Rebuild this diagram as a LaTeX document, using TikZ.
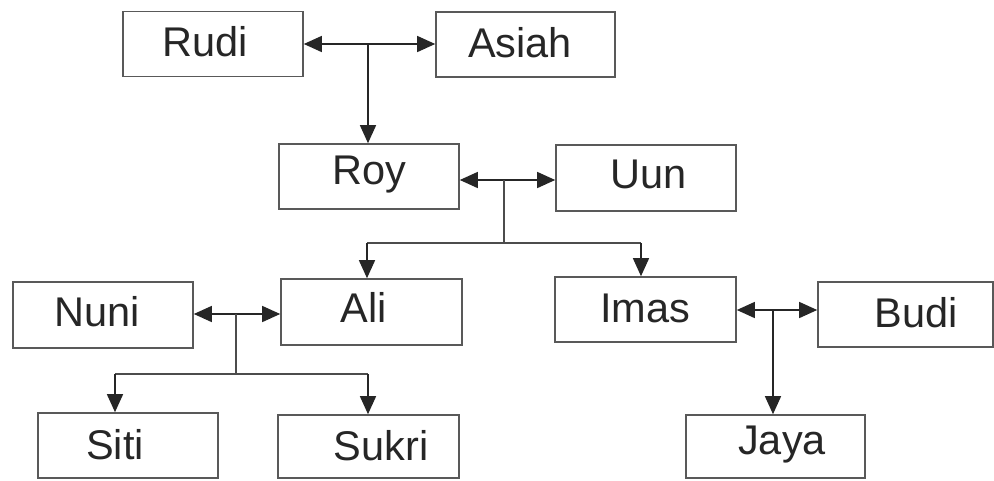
\documentclass[tikz,border=0pt]{standalone}
\usepackage{fontspec}
\setmainfont{Liberation Sans}
\usetikzlibrary{arrows.meta}
\begin{document}
\begin{tikzpicture}[x=1pt,y=-1pt,
  person/.style={draw=black!65, line width=1.6pt, fill=white, inner sep=0pt,
    minimum width=180pt, minimum height=65pt},
  nm/.style={font=\fontsize{41.5}{46}\selectfont, text=black!85, inner sep=0pt},
  link/.style={draw=black!70, line width=1.4pt},
  tip/.style={-{Triangle[length=18pt,width=16pt]}, black!85},
  both/.style={{Triangle[length=18pt,width=16pt]}-{Triangle[length=18pt,width=16pt]}, black!85}
]
\useasboundingbox (0,0) rectangle (994,480);

% people
\node[person] (rudi)  at (213,44)  {}; \node[nm] (trudi)  at (205,42)  {Rudi};
\node[person, minimum width=179pt] (asiah) at (525.5,44.5) {}; \node[nm] (tasiah) at (520,43) {Asiah};
\node[person] (roy)   at (369,176.5) {}; \node[nm] (troy)   at (369,175) {Roy};
\node[person, minimum height=66pt] (uun)   at (646,178) {}; \node[nm] (tuun)   at (649,174) {Uun};
\node[person, minimum height=66pt] (nuni)  at (103,315) {}; \node[nm] (tnuni)  at (97,312)  {Nuni};
\node[person, minimum height=66pt, minimum width=181pt] (ali) at (371.5,312) {}; \node[nm] (tali) at (364,307) {Ali};
\node[person, minimum width=181pt] (imas)  at (645.5,309.5) {}; \node[nm] (timas) at (645,308) {Imas};
\node[person, minimum width=175pt] (budi)  at (905.5,314.5) {}; \node[nm] (tbudi)  at (916,313) {Budi};
\node[person] (siti)  at (128,445.5) {}; \node[nm] (tsiti)  at (115,445) {Siti};
\node[person, minimum width=181pt, minimum height=63pt] (sukri) at (368.5,446.5) {}; \node[nm] (tsukri) at (381,446) {Sukri};
\node[person, minimum width=179pt, minimum height=63pt] (jaya)  at (775.5,446.5) {}; \node[nm] (tjaya)  at (782,445) {Jaya};

% junction points of the couple lines
\coordinate (j1) at (368,44);
\coordinate (j2) at (504,180);
\coordinate (b2) at (504,243);
\coordinate (j3) at (236,314);
\coordinate (b3) at (236,374);
\coordinate (j4) at (773,310);

% Rudi + Asiah -> Roy
\draw[link, both] (rudi.east |- j1) -- (asiah.west |- j1);
\draw[link, tip] (j1) -- (j1 |- roy.north);

% Roy + Uun -> Ali, Imas
\draw[link, both] (roy.east |- j2) -- (uun.west |- j2);
\draw[link] (j2) -- (b2);
\draw[link] (367,243) -- (641,243);
\draw[link, tip] (367,243) -- (367,279 |- ali.north);
\draw[link, tip] (641,243) -- (641,243 |- imas.north);

% Nuni + Ali -> Siti, Sukri
\draw[link, both] (nuni.east |- j3) -- (ali.west |- j3);
\draw[link] (j3) -- (b3);
\draw[link] (115,374) -- (368,374);
\draw[link, tip] (115,374) -- (115,374 |- siti.north);
\draw[link, tip] (368,374) -- (368,374 |- sukri.north);

% Imas + Budi -> Jaya
\draw[link, both] (imas.east |- j4) -- (budi.west |- j4);
\draw[link, tip] (j4) -- (j4 |- jaya.north);
\end{tikzpicture}
\end{document}
